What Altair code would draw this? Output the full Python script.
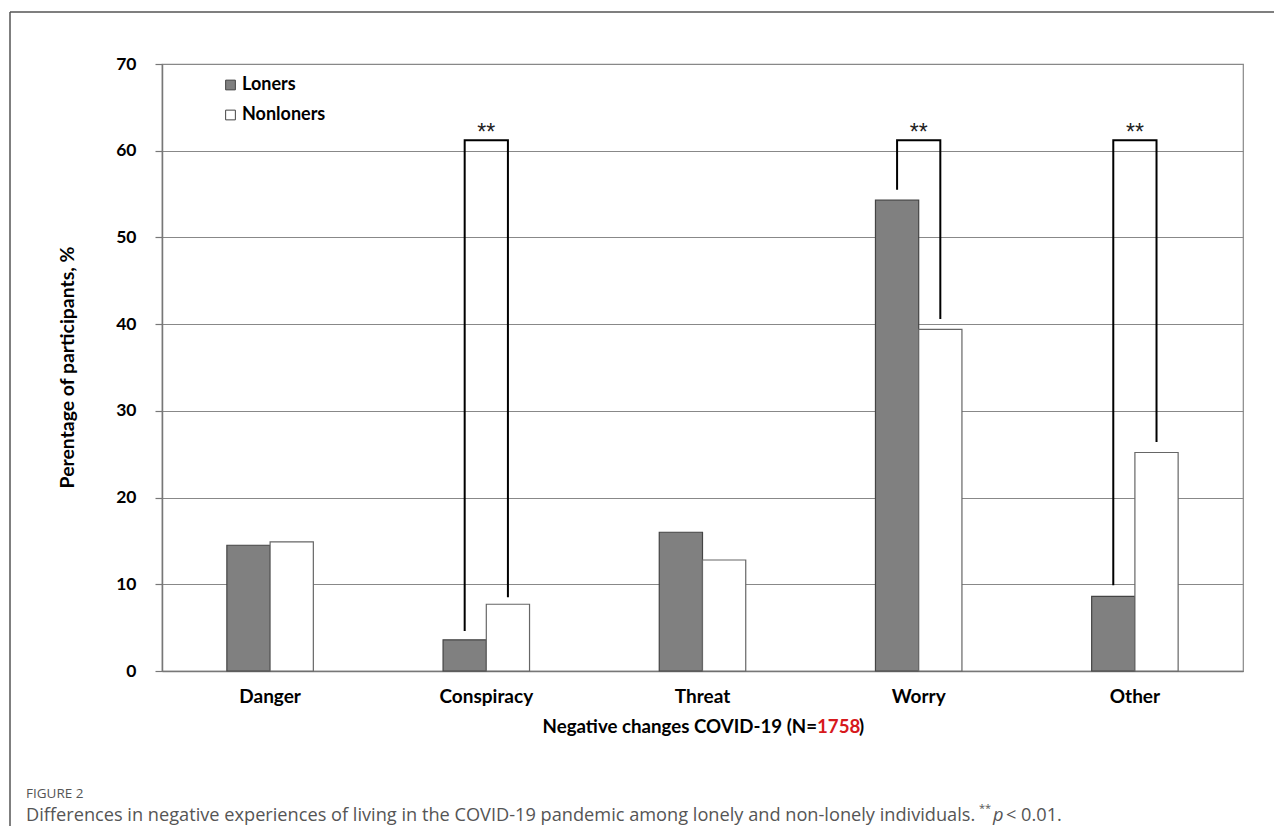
import altair as alt
import pandas as pd

categories = ["Danger", "Conspiracy", "Threat", "Worry", "Other"]
groups = ["Loners", "Nonloners"]
loners = [14.5, 3.6, 16.0, 54.3, 8.6]
nonloners = [14.9, 7.7, 12.8, 39.4, 25.2]

sig_categories = ["Conspiracy", "Worry", "Other"]
sig_loner_leg = [4.6, 55.5, 9.9]
sig_nonloner_leg = [8.5, 40.6, 26.4]
bracket_top = 61.2
sig_label = "**"

y_ticks = [0, 10, 20, 30, 40, 50, 60, 70]

x_title_black = "Negative changes COVID-19 (N="
x_title_red = "1758"
x_title_end = ")"
y_title = "Perentage of participants, %"
fig_label = "FIGURE 2"
caption = ("Differences in negative experiences of living in the COVID-19 pandemic "
           "among lonely and non-lonely individuals.")

FONT = "Lato"
CAPFONT = "Open Sans"

rows = []
for c, a, b in zip(categories, loners, nonloners):
    rows.append({"category": c, "group": "Loners", "value": a})
    rows.append({"category": c, "group": "Nonloners", "value": b})
df = pd.DataFrame(rows)

brows = []
for c, l, n in zip(sig_categories, sig_loner_leg, sig_nonloner_leg):
    brows += [
        {"category": c, "group": "Loners", "value": l, "step": 0},
        {"category": c, "group": "Loners", "value": bracket_top, "step": 1},
        {"category": c, "group": "Nonloners", "value": bracket_top, "step": 2},
        {"category": c, "group": "Nonloners", "value": n, "step": 3},
    ]
bdf = pd.DataFrame(brows)
sdf = pd.DataFrame({"category": sig_categories, "value": [bracket_top] * 3, "label": [sig_label] * 3})

x_enc = alt.X(
    "category:N", sort=categories,
    scale=alt.Scale(paddingInner=0.6, paddingOuter=0.3),
    axis=alt.Axis(title=None, labelAngle=0, ticks=False, grid=False,
                  labelFont=FONT, labelFontSize=19, labelFontWeight="bold",
                  labelColor="black", labelPadding=16,
                  domainColor="#777", domainWidth=1.5),
)
xoff = alt.XOffset("group:N", sort=groups, scale=alt.Scale(paddingInner=0, paddingOuter=0))
y_enc = alt.Y(
    "value:Q", scale=alt.Scale(domain=[0, 70], nice=False),
    axis=alt.Axis(title=None, values=y_ticks, grid=True, gridColor="#888", gridWidth=1.2,
                  tickColor="#777", tickSize=7, tickWidth=1.2,
                  domainColor="#777", domainWidth=1.5,
                  labelFont=FONT, labelFontSize=17.5, labelFontWeight="bold",
                  labelColor="black", labelPadding=19),
)

bars = alt.Chart(df).mark_bar(strokeWidth=1.2).encode(
    x=x_enc, xOffset=xoff, y=y_enc,
    fill=alt.Fill("group:N", scale=alt.Scale(domain=groups, range=["#808080", "#ffffff"]), legend=None),
    stroke=alt.Stroke("group:N", scale=alt.Scale(domain=groups, range=["#444444", "#666666"]), legend=None),
)

brackets = alt.Chart(bdf).mark_line(color="black", strokeWidth=2).encode(
    x=x_enc, xOffset=xoff, y=alt.Y("value:Q"),
    detail="category:N", order="step:Q",
)

stars = alt.Chart(sdf).mark_text(font="Liberation Sans", fontSize=23, baseline="alphabetic",
                                 dy=0, color="#222").encode(
    x=x_enc, y=alt.Y("value:Q"), text="label:N",
)

one = alt.Data(values=[{}])


def txt(text, x, y, **kw):
    return alt.Chart(one).mark_text(text=text, **kw).encode(x=alt.value(x), y=alt.value(y))


legend_layers = [
    alt.Chart(one).mark_square(size=95, fill="#808080", stroke="#444", strokeWidth=1, opacity=1).encode(
        x=alt.value(68.5), y=alt.value(21)),
    alt.Chart(one).mark_square(size=95, fill="#ffffff", stroke="#444", strokeWidth=1, opacity=1).encode(
        x=alt.value(68.5), y=alt.value(51)),
    txt(groups[0], 80, 21, font=FONT, fontSize=18, fontWeight="bold", align="left", baseline="middle", color="black"),
    txt(groups[1], 80, 51, font=FONT, fontSize=18, fontWeight="bold", align="left", baseline="middle", color="black"),
]

titles = [
    txt(y_title, -94, 303.5, font=FONT, fontSize=19.4, fontWeight="bold", angle=270,
        align="center", baseline="middle", color="black"),
    txt(x_title_black, 655, 663, font=FONT, fontSize=18.7, fontWeight="bold", align="right",
        baseline="middle", color="black"),
    txt(x_title_red, 655, 663, font=FONT, fontSize=18.7, fontWeight="bold", align="left",
        baseline="middle", color="#d7191c"),
    txt(x_title_end, 697, 663, font=FONT, fontSize=18.7, fontWeight="bold", align="left",
        baseline="middle", color="black"),
]

frame = [
    alt.Chart(one).mark_rule(color="#555", strokeWidth=1.5).encode(
        x=alt.value(-152), x2=alt.value(1130), y=alt.value(-52)),
    alt.Chart(one).mark_rule(color="#555", strokeWidth=1.5).encode(
        x=alt.value(-152), y=alt.value(-52), y2=alt.value(780)),
]

caption_layers = [
    txt(fig_label, -136, 730, font=CAPFONT, fontSize=13.5, align="left", baseline="middle", color="#555"),
    txt(caption, -136, 752, font=CAPFONT, fontSize=18.2, align="left", baseline="middle", color="#555"),
    txt("**", 817, 745, font=CAPFONT, fontSize=11, align="left", baseline="middle", color="#555"),
    txt("p", 831, 752, font=CAPFONT, fontSize=18.2, fontStyle="italic", align="left", baseline="middle", color="#555"),
    txt("< 0.01.", 844, 752, font=CAPFONT, fontSize=18.2, align="left", baseline="middle", color="#555"),
]

chart = alt.layer(
    bars, brackets, stars, *legend_layers, *titles, *frame, *caption_layers
).properties(
    width=1081, height=607,
    autosize=alt.AutoSizeParams(type="none"),
    padding={"left": 154, "top": 56, "right": 31, "bottom": 155},
).configure_view(stroke="#888", strokeWidth=1.2)

chart.save("out.html", embed_options={"renderer": "svg", "actions": False})
